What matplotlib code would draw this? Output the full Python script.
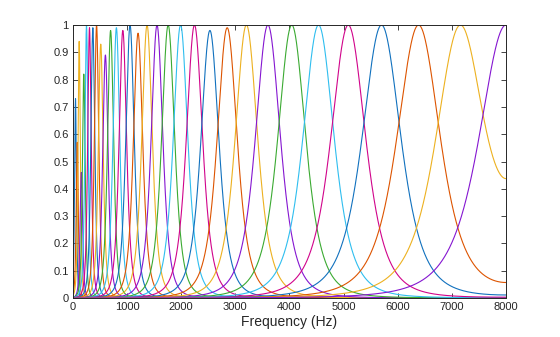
import numpy as np
import matplotlib
matplotlib.use("Agg")
import matplotlib.pyplot as plt

plt.rcParams['font.family'] = ['Liberation Sans', 'DejaVu Sans']

# filter centre frequencies (Hz)
center_hz = [50, 82, 118, 158, 203, 253, 308, 370, 439, 516, 602, 698,
             805, 924, 1057, 1205, 1371, 1555, 1761, 1990, 2247, 2532,
             2851, 3206, 3603, 4044, 4538, 5087, 5701, 6385, 7148, 7999]
# filter bandwidths (Hz)
bandwidth_hz = [30.7, 34.2, 38.1, 42.5, 47.5, 53.0, 59.0, 65.9, 73.5, 81.9,
                91.4, 101.9, 113.7, 126.8, 141.4, 157.7, 176.0, 196.2, 218.9,
                244.0, 272.3, 303.7, 338.8, 377.8, 421.5, 469.9, 524.4,
                584.7, 652.3, 727.6, 811.4, 905.1]
# plotted peak heights
peak = [0.73, 0.57, 0.94, 0.46, 0.82, 1.0, 0.99, 0.99, 1.0, 0.93, 0.89,
        0.98, 0.99, 0.98, 1.0, 0.97, 1.0, 1.0, 1.0, 1.0, 1.0, 0.98, 0.99,
        1.0, 1.0, 1.0, 1.0, 1.0, 1.0, 1.0, 1.0, 1.0]

fs = 16000
colors = ['#1171BE', '#DD5400', '#EDB120', '#8516D1',
          '#3BAA32', '#2FBEEF', '#D1048B']

freq = np.linspace(0, 8000, 4001)


def response(fc, b):
    g = (1 + ((freq - fc) / b) ** 2) ** -2
    g += (1 + ((fs - freq - fc) / b) ** 2) ** -2
    return g / g.max()


fig = plt.figure(figsize=(5.6, 3.37), dpi=100)
ax = fig.add_axes([0.130, 0.1157, 0.7736, 0.8101])

for i, (fc, b, p) in enumerate(zip(center_hz, bandwidth_hz, peak)):
    ax.plot(freq, p * response(fc, b), color=colors[i % 7], lw=0.8)

ax.set_xlim(0, 8000)
ax.set_ylim(0, 1)
ax.set_xticks(range(0, 8001, 1000))
ax.set_yticks(np.arange(0, 1.01, 0.1))
ax.set_yticklabels(['0', '0.1', '0.2', '0.3', '0.4', '0.5', '0.6',
                    '0.7', '0.8', '0.9', '1'])
ax.tick_params(direction='in', top=True, right=True, length=3.5,
               width=0.6, labelsize=8, colors='#262626', pad=3)
for s in ax.spines.values():
    s.set_color('#262626')
    s.set_linewidth(0.7)
ax.set_xlabel('Frequency (Hz)', fontsize=10, color='#262626', labelpad=2)

fig.savefig('out.png', dpi=100)
